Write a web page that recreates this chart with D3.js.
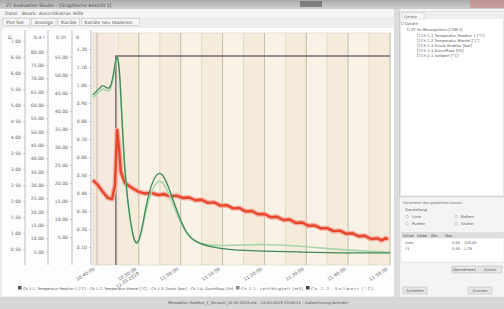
<!DOCTYPE html>
<html><head><meta charset="utf-8">
<script src="https://cdn.jsdelivr.net/npm/d3@7"></script>
<style>body{margin:0;background:#fff;overflow:hidden}svg{display:block;font-family:"DejaVu Sans",sans-serif}</style>
</head><body><svg id="c" width="504" height="309"></svg>
<script>
// ---------- data ----------
const xTickValues = [0, 1, 2, 3, 4, 5, 6, 7];
const xTickLabels = ["10:40:00", "10:50:00|12.03.2019", "11:00:00", "11:10:00", "11:20:00", "11:30:00", "11:40:00", "11:50:00"];

const greenDark = [[-0.1,73.3],[0.02,75.4],[0.14,78],[0.24,75.9],[0.33,76.3],[0.41,84],[0.45,89.2],[0.5,90.5],[0.55,81.9],[0.62,53.9],[0.69,34.5],[0.79,19.4],[0.88,10.8],[0.96,8.6],[1.05,12.9],[1.17,25.9],[1.31,35.8],[1.46,40.1],[1.58,39.2],[1.74,32.3],[1.94,21.6],[2.13,13.8],[2.34,9.9],[2.7,7.8],[3.18,6.5],[3.89,6.0],[4.85,5.6],[5.8,5.2],[7.0,5.2]];
const greenLight = [[-0.1,72.0],[0.02,74.0],[0.14,76.5],[0.24,74.8],[0.33,75.0],[0.41,82.5],[0.45,88.0],[0.5,89.6],[0.55,80.5],[0.62,52.5],[0.69,33.5],[0.79,18.8],[0.88,10.4],[0.96,8.4],[1.05,12.2],[1.17,23.8],[1.31,32.6],[1.46,36.6],[1.58,35.8],[1.74,30.0],[1.94,20.4],[2.13,13.2],[2.34,9.8],[2.7,8.3],[3.18,8.4],[3.89,9.1],[4.85,8.2],[5.8,6.6],[6.6,5.8],[7.0,5.6]];
const redSeries = [[-0.1,36.6],[0.02,34.5],[0.14,31.5],[0.26,28.9],[0.36,28.4],[0.43,34.5],[0.48,58.2],[0.53,49.6],[0.57,40.1],[0.67,35.3],[0.84,33.2],[1.0,31.5],[1.15,30.8],[1.3,31.1],[1.45,30.2],[1.6,30.5],[1.75,29.6],[1.9,29.9],[2.05,28.9],[2.2,29.1],[2.35,27.9],[2.5,28.1],[2.65,26.8],[2.8,27.0],[2.95,25.6],[3.1,25.8],[3.25,24.4],[3.4,24.6],[3.55,23.1],[3.7,23.3],[3.85,21.9],[4.0,22.0],[4.15,20.6],[4.3,20.8],[4.45,19.4],[4.6,19.6],[4.75,18.1],[4.9,18.3],[5.05,16.9],[5.2,17.1],[5.35,15.8],[5.5,15.9],[5.65,14.6],[5.8,14.8],[5.95,13.5],[6.1,13.7],[6.25,12.4],[6.4,12.6],[6.55,11.2],[6.7,11.5],[6.8,10.6],[6.9,11.6],[6.95,10.9]];
const gateLine = [[0.45,0],[0.45,90.1],[7.0,90.1]];

const axis1Ticks = [0.5,1,1.5,2,2.5,3,3.5,4,4.5,5,5.5,6,6.5,7];
const axis2Ticks = [5,10,15,20,25,30,35,40,45,50,55,60,65,70,75,80];
const axis3Ticks = [5,10,15,20,25,30,35,40,45,50,55];
const axis4Ticks = [0.1,0.2,0.3,0.4,0.5,0.6,0.7,0.8,0.9,1.0,1.1,1.2];
const axisTitles = ["Ω", "0.4 l", "0 l/h", "0"];

const legendItems = [
  {label:"Ch 1.1: Temperatur Reaktor 1 [°C]  –  Ch 1.2: Temperatur Mantel [°C]  –  Ch 1.3: Druck [bar]  –  Ch 1.4: Durchfluss [l/h]", color:"#555"},
  {label:"Ch 2.1: Leitfähigkeit [mS]", color:"#888"},
  {label:"Ch 2.2: Sollwert [°C]", color:"#444"}
];
const menuItems = ["Datei","Bearb.","Ansicht","Extras","Hilfe"];
const toolItems = ["Plot-Set","Anzeige","Kanäle","Kanäle neu skalieren"];
const treeItems = ["Geräte","ZT-3x Messsystem (COM 3)","Ch 1.1 Temperatur Reaktor 1 [°C]","Ch 1.2 Temperatur Mantel [°C]","Ch 1.3 Druck Reaktor [bar]","Ch 1.4 Durchfluss [l/h]","Ch 2.1 Sollwert [°C]"];

// ---------- drawing ----------
const svg = d3.select("#c");
const fs = 4.6;

// window chrome
svg.append("rect").attr("width",504).attr("height",309).attr("fill","#ececec");
const g0 = svg.append("defs").append("linearGradient").attr("id","tb").attr("x1",0).attr("x2",0).attr("y1",0).attr("y2",1);
g0.append("stop").attr("offset",0).attr("stop-color","#a9a9a9");
g0.append("stop").attr("offset",1).attr("stop-color","#cfcfcf");
svg.append("rect").attr("width",504).attr("height",9).attr("fill","url(#tb)");
svg.append("text").attr("x",6).attr("y",6.5).attr("font-size",fs).attr("fill","#444").text("ZT Evaluation Studio – [Graphische Ansicht 1]");
svg.append("rect").attr("x",300).attr("y",1).attr("width",22).attr("height",6).attr("fill","#555").attr("opacity",0.6);
svg.append("rect").attr("x",470).attr("y",0).attr("width",34).attr("height",8).attr("fill","#c98a8a").attr("opacity",0.7);
svg.append("rect").attr("y",9).attr("width",504).attr("height",8).attr("fill","#f5f5f5");
menuItems.forEach((m,i)=>svg.append("text").attr("x",5+i*17).attr("y",15).attr("font-size",fs).attr("fill","#555").text(m));
svg.append("rect").attr("y",17).attr("width",395).attr("height",10).attr("fill","#ededed");
let tx = 3;
toolItems.forEach(t=>{
  const w = t.length*2.6+6;
  svg.append("rect").attr("x",tx).attr("y",18.5).attr("width",w).attr("height",7).attr("fill","#f7f7f7").attr("stroke","#b8b8b8").attr("stroke-width",0.5);
  svg.append("text").attr("x",tx+3).attr("y",23.8).attr("font-size",fs).attr("fill","#555").text(t);
  tx += w+2;
});

// chart panel
svg.append("rect").attr("x",2).attr("y",28).attr("width",392).attr("height",268).attr("fill","#fdfdfd");

const plotL = 93, plotR = 390, plotT = 33, plotB = 265;
const x = d3.scaleLinear().domain([0,7]).range([97,390]);
const y = d3.scaleLinear().domain([0,100]).range([plotB,plotT]);

svg.append("rect").attr("x",plotL).attr("y",plotT).attr("width",plotR-plotL).attr("height",plotB-plotT).attr("fill","#f7efe0");
// bands
const bandEdges = d3.range(-0.5,7.01,0.5);
bandEdges.forEach((b,i)=>{
  if (i===bandEdges.length-1) return;
  const x0 = Math.max(plotL,x(b)), x1 = Math.min(plotR,x(b+0.5));
  svg.append("rect").attr("x",x0).attr("y",plotT).attr("width",Math.max(0,x1-x0)).attr("height",plotB-plotT)
    .attr("fill", i%2 ? "#f9f2e6" : "#f5ebda");
});
svg.append("rect").attr("x",plotL).attr("y",plotT).attr("width",x(0.45)-plotL).attr("height",plotB-plotT).attr("fill","#f5e2da").attr("opacity",0.6);
// gridlines
d3.range(0.5,7,1).forEach(v=>svg.append("line").attr("x1",x(v)).attr("x2",x(v)).attr("y1",plotT).attr("y2",plotB).attr("stroke","#d9cdb8").attr("stroke-width",0.6));
xTickValues.forEach(v=>svg.append("line").attr("x1",x(v)).attr("x2",x(v)).attr("y1",plotT).attr("y2",plotB).attr("stroke","#b9ad98").attr("stroke-width",0.8));
svg.append("rect").attr("x",plotL).attr("y",plotT).attr("width",plotR-plotL).attr("height",plotB-plotT).attr("fill","none").attr("stroke","#d8d0c4").attr("stroke-width",0.6);

// x axis labels
xTickValues.forEach((v,i)=>{
  const parts = xTickLabels[i].split("|");
  const t = svg.append("text").attr("transform",`translate(${x(v)-2},${plotB+5}) rotate(-32)`).attr("text-anchor","end").attr("font-size",fs).attr("fill","#666");
  parts.forEach((p,j)=>t.append("tspan").attr("x",0).attr("dy", j?5:0).text(p));
});

// left axes
const axisDefs = [
  {xpos:25, ticks:axis1Ticks, dom:[0,14.5*0.5], fmt:d3.format(".2f"), title:axisTitles[0], tx:8},
  {xpos:48, ticks:axis2Ticks, dom:[0,87], fmt:d3.format(".2f"), title:axisTitles[1], tx:34},
  {xpos:72, ticks:axis3Ticks, dom:[-2.8,61.6], fmt:d3.format(".2f"), title:axisTitles[2], tx:56},
  {xpos:91, ticks:axis4Ticks, dom:[0,1.289], fmt:d3.format(".2f"), title:axisTitles[3], tx:76}
];
axisDefs.forEach(a=>{
  const s = d3.scaleLinear().domain(a.dom).range([plotB,plotT]);
  const g = svg.append("g").attr("transform",`translate(${a.xpos},0)`)
    .call(d3.axisLeft(s).tickValues(a.ticks).tickFormat(a.fmt).tickSize(2).tickPadding(2));
  g.select(".domain").attr("stroke","#999").attr("stroke-width",0.6).attr("d",`M0,${plotT-3}V${plotB}`);
  g.selectAll(".tick line").attr("stroke","#999").attr("stroke-width",0.5);
  g.selectAll("text").attr("font-size",fs).attr("fill","#666").attr("font-family","DejaVu Sans");
  svg.append("text").attr("x",a.tx).attr("y",39).attr("font-size",fs).attr("fill","#666").text(a.title);
});

// series
const line = d3.line().x(d=>x(d[0])).y(d=>y(d[1]));
svg.append("path").datum(gateLine).attr("d",line).attr("fill","none").attr("stroke","#786a76").attr("stroke-width",1.5);
svg.append("path").datum(redSeries).attr("d",line).attr("fill","none").attr("stroke","#f4b0a0").attr("stroke-width",5).attr("stroke-linejoin","round");
svg.append("path").datum(redSeries).attr("d",line).attr("fill","none").attr("stroke","#e6462c").attr("stroke-width",2.4).attr("stroke-linejoin","round");
svg.append("path").datum(greenLight).attr("d",line.curve(d3.curveBasis)).attr("fill","none").attr("stroke","#a6d6a8").attr("stroke-width",1.6);
svg.append("path").datum(greenDark).attr("d",d3.line().x(d=>x(d[0])).y(d=>y(d[1])).curve(d3.curveBasis)).attr("fill","none").attr("stroke","#3f8a58").attr("stroke-width",1.3);

// legend
let lx = 18;
const lw = [218, 70, 70];
legendItems.forEach((it,i)=>{
  svg.append("rect").attr("x",lx).attr("y",286).attr("width",3.5).attr("height",3.5).attr("fill",it.color);
  svg.append("text").attr("x",lx+5).attr("y",289.6).attr("font-size",3.6).attr("fill","#555").attr("textLength",lw[i]-8).text(it.label);
  lx += lw[i];
});

// splitter + right panel
svg.append("rect").attr("x",394).attr("y",9).attr("width",6).attr("height",288).attr("fill","#dcdcdc");
svg.append("rect").attr("x",400).attr("y",12).attr("width",104).attr("height",184).attr("fill","#ffffff").attr("stroke","#b0b0b0").attr("stroke-width",0.6);
svg.append("rect").attr("x",400).attr("y",12).attr("width",104).attr("height",7).attr("fill","#eeeeee");
svg.append("rect").attr("x",402).attr("y",13).attr("width",22).attr("height",6).attr("fill","#fafafa").attr("stroke","#bbb").attr("stroke-width",0.4);
svg.append("text").attr("x",404).attr("y",17.6).attr("font-size",3.8).attr("fill","#666").text("Geräte");
treeItems.forEach((t,i)=>{
  const ix = i===0 ? 405 : i===1 ? 411 : 421;
  const iy = i===0 ? 25 : i===1 ? 31 : 37 + (i-2)*5;
  svg.append("rect").attr("x",ix-3.5).attr("y",iy-3).attr("width",2.5).attr("height",2.5).attr("fill","none").attr("stroke","#888").attr("stroke-width",0.4);
  svg.append("text").attr("x",ix).attr("y",iy).attr("font-size",3.8).attr("fill","#555").text(t);
});
// lower right panel
svg.append("rect").attr("x",400).attr("y",198).attr("width",104).attr("height",98).attr("fill","#f4f4f4");
svg.append("text").attr("x",403).attr("y",204).attr("font-size",3.6).attr("fill","#777").text("Parameter des gewählten Kanals");
svg.append("text").attr("x",405).attr("y",211).attr("font-size",3.8).attr("fill","#555").text("Darstellung");
[["Linie",407,218],["Balken",456,218],["Punkte",407,225],["Stufen",456,225]].forEach(r=>{
  svg.append("circle").attr("cx",r[1]).attr("cy",r[2]-1.2).attr("r",1.4).attr("fill","#fff").attr("stroke","#888").attr("stroke-width",0.4);
  svg.append("text").attr("x",r[1]+5).attr("y",r[2]).attr("font-size",3.8).attr("fill","#555").text(r[0]);
});
svg.append("rect").attr("x",401).attr("y",232).attr("width",103).attr("height",6).attr("fill","#dedede");
["Achse","Farbe","Min","Max"].forEach((h,i)=>svg.append("text").attr("x",403+i*14).attr("y",236.5).attr("font-size",3.6).attr("fill","#444").text(h));
svg.append("rect").attr("x",401).attr("y",238).attr("width",103).attr("height",24).attr("fill","#fff").attr("stroke","#ccc").attr("stroke-width",0.4);
[["Auto","0,00 – 100,00",244],["Y1","0,00 – 1,29",250]].forEach(r=>{
  svg.append("text").attr("x",405).attr("y",r[2]).attr("font-size",3.6).attr("fill","#555").text(r[0]);
  svg.append("text").attr("x",452).attr("y",r[2]).attr("font-size",3.6).attr("fill","#555").text(r[1]);
});
[["Übernehmen",452,266],["Zurück",478,266],["Schließen",403,287],["Drucken",468,287]].forEach(b=>{
  svg.append("rect").attr("x",b[1]).attr("y",b[2]).attr("width",24).attr("height",7).attr("fill","#e6e6e6").attr("stroke","#aaa").attr("stroke-width",0.4);
  svg.append("text").attr("x",b[1]+12).attr("y",b[2]+4.8).attr("text-anchor","middle").attr("font-size",3.6).attr("fill","#555").text(b[0]);
});

// status bar
svg.append("rect").attr("x",0).attr("y",297).attr("width",504).attr("height",12).attr("fill","#d6d6d6");
svg.append("text").attr("x",258).attr("y",304).attr("text-anchor","middle").attr("font-size",3.8).attr("fill","#555").text("Messdatei: Reaktor_1_Versuch_12.03.2019.ztd  –  12.03.2019 10:38:12  –  Aufzeichnung beendet");
</script></body></html>
